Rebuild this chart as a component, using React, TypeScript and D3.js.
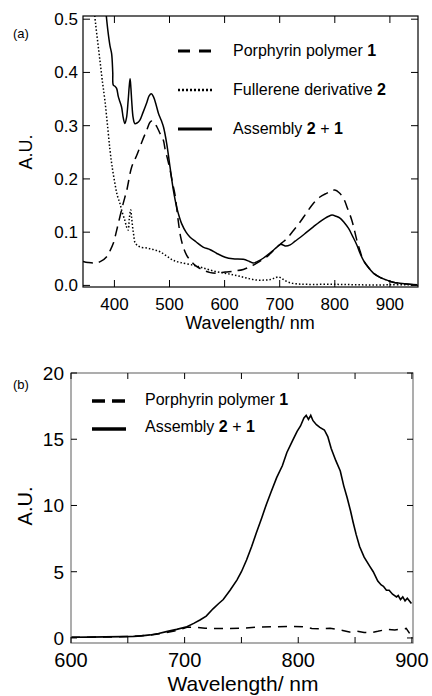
import React, { useEffect, useRef } from 'react';
import * as d3 from 'd3';

const FONT = '"Liberation Sans", Arial, Helvetica, sans-serif';

// (a) absorption spectra, [wavelength nm, A.U.]
const porphyrinAbs: [number, number][] = [
  [343, 0.045], [352, 0.043], [365, 0.042], [375, 0.045], [386, 0.054], [392, 0.065], [398, 0.079],
  [404, 0.103], [410, 0.129], [416, 0.154], [422.5, 0.179], [431.5, 0.223], [440, 0.243], [450, 0.27],
  [458, 0.29], [465, 0.307], [469, 0.309], [473, 0.305], [477, 0.298], [483, 0.285], [489, 0.272],
  [492, 0.256], [497, 0.235], [501, 0.217], [506, 0.19], [510, 0.17], [516, 0.12], [520, 0.092],
  [525, 0.072], [531, 0.057], [537, 0.048], [546, 0.038], [555, 0.032], [565, 0.027], [574, 0.024],
  [587, 0.023], [601, 0.025], [618, 0.027], [634, 0.03], [652, 0.038], [665, 0.046], [677, 0.054],
  [686, 0.063], [695, 0.072], [704, 0.08], [713, 0.088], [725, 0.103], [737, 0.119], [749, 0.137],
  [761, 0.154], [773, 0.166], [785, 0.173], [793, 0.177], [800, 0.179], [808, 0.174], [816, 0.163],
  [823, 0.145], [831, 0.122], [836, 0.102], [840, 0.085], [846, 0.064], [852, 0.047], [860, 0.035],
  [870, 0.023], [882, 0.015], [894, 0.01], [906, 0.006], [918, 0.004], [935, 0.002], [950, 0.001],
];

const fullereneAbs: [number, number][] = [
  [363, 0.52], [366, 0.49], [370, 0.455], [374, 0.42], [378, 0.385], [383, 0.345], [388, 0.295],
  [392, 0.254], [396, 0.222], [401, 0.191], [405, 0.17], [410, 0.154], [414, 0.138], [419, 0.122],
  [422, 0.11], [425, 0.104], [427, 0.125], [429.5, 0.142], [431, 0.13], [433, 0.11], [435, 0.095],
  [437.5, 0.08], [442, 0.075], [447, 0.072], [460, 0.07], [472, 0.067], [483, 0.063], [495, 0.055],
  [507, 0.047], [520, 0.043], [543, 0.038], [560, 0.033], [580, 0.027], [600, 0.023], [615, 0.02],
  [628, 0.017], [643, 0.013], [658, 0.01], [672, 0.01], [683, 0.011], [691, 0.014], [698, 0.016],
  [705, 0.012], [716, 0.006], [730, 0.003], [749, 0.002], [800, 0.002], [850, 0.001], [900, 0.001],
  [950, 0.001],
];

const assemblyAbs: [number, number][] = [
  [384, 0.52], [388, 0.48], [392, 0.45], [395, 0.435], [397, 0.4], [398, 0.376], [401, 0.374],
  [404, 0.37], [407, 0.355], [409, 0.348], [413, 0.335], [416, 0.315], [419, 0.304], [422, 0.315],
  [425, 0.348], [427, 0.375], [428.5, 0.388], [430, 0.37], [431.5, 0.345], [434, 0.315], [437, 0.304],
  [441, 0.305], [446, 0.31], [452, 0.325], [459, 0.344], [463, 0.356], [467, 0.36], [471, 0.354],
  [476, 0.338], [480, 0.323], [485, 0.31], [489, 0.298], [495, 0.266], [501, 0.222], [507, 0.179],
  [513, 0.147], [518, 0.128], [522, 0.116], [530, 0.1], [537, 0.091], [548, 0.082], [561, 0.072],
  [574, 0.067], [586, 0.06], [601, 0.053], [615, 0.05], [634, 0.049], [645, 0.045], [652, 0.042],
  [660, 0.045], [670, 0.051], [685, 0.063], [695, 0.072], [701, 0.077], [706, 0.076], [710, 0.074],
  [719, 0.076], [728, 0.083], [737, 0.09], [749, 0.1], [761, 0.11], [772, 0.119], [782, 0.126],
  [789, 0.13], [795, 0.132], [802, 0.13], [810, 0.126], [817, 0.118], [825, 0.107], [832, 0.093],
  [840, 0.076], [846, 0.06], [852, 0.047], [860, 0.035], [870, 0.023], [882, 0.015], [894, 0.01],
  [906, 0.006], [918, 0.004], [935, 0.002], [950, 0.001],
];

// (b) emission spectra
const porphyrinEm: [number, number][] = [
  [600, 0.05], [630, 0.07], [655, 0.12], [670, 0.22], [684, 0.4], [695, 0.6], [702, 0.8], [710, 0.8],
  [718, 0.74], [725, 0.72], [740, 0.72], [752, 0.75], [765, 0.82], [781, 0.85], [795, 0.86], [804, 0.85],
  [812, 0.72], [820, 0.7], [828, 0.73], [836, 0.62], [845, 0.45], [852, 0.5], [858, 0.42], [863, 0.38],
  [870, 0.5], [877.6, 0.65], [885, 0.6], [892, 0.68], [895, 0.72], [898, 0.35],
];

const assemblyEm: [number, number][] = [
  [600, 0.05], [615, 0.06], [630, 0.08], [645, 0.1], [655, 0.12], [662, 0.16], [669.5, 0.23], [677, 0.34],
  [684, 0.48], [693, 0.65], [702, 0.85], [708, 1.1], [713.5, 1.36], [719, 1.65], [725, 2.2], [730, 2.6],
  [734, 2.9], [740, 3.6], [746, 4.37], [750, 5.0], [754.5, 5.88], [759, 6.9], [763, 7.9], [768, 9.1],
  [772, 10.1], [776, 11.0], [781, 12.1], [786, 13.0], [790, 14.0], [795, 14.9], [799, 15.6], [802, 16.0],
  [805, 16.6], [807, 16.8], [809, 16.5], [811, 16.8], [813, 16.4], [816, 16.1], [819, 15.9], [823, 15.7],
  [826, 15.2], [829, 14.3], [833, 13.4], [837, 12.6], [840, 11.5], [843, 10.6], [846, 9.6], [848.4, 8.7],
  [851, 7.8], [854, 6.9], [858, 6.1], [863, 5.4], [866, 5.0], [870, 4.3], [873, 4.0], [875, 3.9],
  [877.6, 3.6], [880, 3.6], [883, 3.3], [886.5, 3.1], [888, 3.2], [890, 2.9], [892, 3.1], [894, 2.8],
  [896, 3.0], [899.6, 2.6],
];

const xTicksA = [400, 500, 600, 700, 800, 900];
const yTicksA = [0, 0.1, 0.2, 0.3, 0.4, 0.5];
const xTicksB = [600, 700, 800, 900];
const xMinorB = [650, 750, 850];
const yTicksB = [0, 5, 10, 15, 20];

type Sel = d3.Selection<SVGGElement, unknown, null, undefined>;

function frame(g: Sel, x: d3.ScaleLinear<number, number>, y: d3.ScaleLinear<number, number>,
  xt: number[], yt: number[], len: number, color: string) {
  const [x0, x1] = x.range();
  const [y1, y0] = y.range();
  g.append('rect')
    .attr('x', x0).attr('y', y0).attr('width', x1 - x0).attr('height', y1 - y0)
    .style('fill', 'none').style('stroke', color).style('stroke-width', 1.2);
  xt.forEach(t => {
    g.append('line').attr('x1', x(t)).attr('x2', x(t)).attr('y1', y1).attr('y2', y1 - len)
      .style('stroke', '#000').style('stroke-width', 1);
    g.append('line').attr('x1', x(t)).attr('x2', x(t)).attr('y1', y0).attr('y2', y0 + len)
      .style('stroke', '#000').style('stroke-width', 1);
  });
  yt.forEach(t => {
    g.append('line').attr('x1', x0).attr('x2', x0 + len).attr('y1', y(t)).attr('y2', y(t))
      .style('stroke', '#000').style('stroke-width', 1);
    g.append('line').attr('x1', x1).attr('x2', x1 - len).attr('y1', y(t)).attr('y2', y(t))
      .style('stroke', '#000').style('stroke-width', 1);
  });
}

function legendText(g: Sel, xPos: number, yPos: number, plain: string, bold: string[], size: number) {
  const t = g.append('text').attr('x', xPos).attr('y', yPos)
    .style('font-family', FONT).style('font-size', size + 'px');
  t.append('tspan').text(plain);
  bold.forEach((b, i) => {
    if (i % 2 === 0) t.append('tspan').style('font-weight', 'bold').text(b);
    else t.append('tspan').text(b);
  });
}

export default function App() {
  const ref = useRef<SVGSVGElement>(null);

  useEffect(() => {
    const svg = d3.select(ref.current);
    svg.selectAll('*').remove();
    const defs = svg.append('defs');

    // ---------- panel (a) ----------
    const xA = d3.scaleLinear().domain([343, 951]).range([83, 418]);
    const yA = d3.scaleLinear().domain([-0.003, 0.506]).range([287, 16]);
    defs.append('clipPath').attr('id', 'clipA').append('rect')
      .attr('x', 83).attr('y', 16).attr('width', 335).attr('height', 271);

    const gA = svg.append('g') as unknown as Sel;
    const lineA = d3.line<[number, number]>()
      .x(d => xA(d[0])).y(d => yA(d[1])).curve(d3.curveCatmullRom);
    const curvesA = gA.append('g').attr('clip-path', 'url(#clipA)');
    curvesA.append('path').attr('d', lineA(porphyrinAbs))
      .style('fill', 'none').style('stroke', '#000').style('stroke-width', 1.5).style('stroke-dasharray', '10 6');
    curvesA.append('path').attr('d', lineA(fullereneAbs))
      .style('fill', 'none').style('stroke', '#000').style('stroke-width', 1.5).style('stroke-dasharray', '1.5 2');
    curvesA.append('path').attr('d', lineA(assemblyAbs))
      .style('fill', 'none').style('stroke', '#000').style('stroke-width', 1.5);

    frame(gA, xA, yA, xTicksA, yTicksA, 7, '#000');

    xTicksA.forEach(t => {
      gA.append('text').attr('x', xA(t)).attr('y', 310).attr('text-anchor', 'middle')
        .style('font-family', FONT).style('font-size', '17px').text(t);
    });
    yTicksA.forEach(t => {
      gA.append('text').attr('x', 78).attr('y', yA(t) + 6).attr('text-anchor', 'end')
        .style('font-family', FONT).style('font-size', '17px').text(d3.format('.1f')(t));
    });
    gA.append('text').attr('x', 250).attr('y', 329).attr('text-anchor', 'middle')
      .style('font-family', FONT).style('font-size', '18px').text('Wavelength/ nm');
    gA.append('text').attr('transform', 'translate(32,152) rotate(-90)').attr('text-anchor', 'middle')
      .style('font-family', FONT).style('font-size', '18px').text('A.U.');
    gA.append('text').attr('x', 13).attr('y', 38)
      .style('font-family', FONT).style('font-size', '13px').text('(a)');

    // legend (a)
    gA.append('line').attr('x1', 178).attr('x2', 212).attr('y1', 51).attr('y2', 51)
      .style('stroke', '#000').style('stroke-width', 3).style('stroke-dasharray', '12 9');
    gA.append('line').attr('x1', 178).attr('x2', 212).attr('y1', 90).attr('y2', 90)
      .style('stroke', '#000').style('stroke-width', 2.5).style('stroke-dasharray', '2 2');
    gA.append('line').attr('x1', 178).attr('x2', 212).attr('y1', 129).attr('y2', 129)
      .style('stroke', '#000').style('stroke-width', 3);
    legendText(gA, 233, 56, 'Porphyrin polymer ', ['1'], 16);
    legendText(gA, 233, 95, 'Fullerene derivative ', ['2'], 16);
    legendText(gA, 233, 134, 'Assembly ', ['2', ' + ', '1'], 16);

    // ---------- panel (b) ----------
    const xB = d3.scaleLinear().domain([600, 901]).range([71, 413]);
    const yB = d3.scaleLinear().domain([-0.38, 20]).range([643, 373]);
    defs.append('clipPath').attr('id', 'clipB').append('rect')
      .attr('x', 71).attr('y', 373).attr('width', 342).attr('height', 270);

    const gB = svg.append('g') as unknown as Sel;
    const lineB = d3.line<[number, number]>()
      .x(d => xB(d[0])).y(d => yB(d[1]));
    const curvesB = gB.append('g').attr('clip-path', 'url(#clipB)');
    curvesB.append('path').attr('d', lineB(porphyrinEm))
      .style('fill', 'none').style('stroke', '#000').style('stroke-width', 1.5).style('stroke-dasharray', '9 7');
    curvesB.append('path').attr('d', lineB(assemblyEm))
      .style('fill', 'none').style('stroke', '#000').style('stroke-width', 1.6);

    frame(gB, xB, yB, xTicksB.concat(xMinorB), yTicksB, 6, '#777');

    xTicksB.forEach(t => {
      gB.append('text').attr('x', xB(t)).attr('y', 667).attr('text-anchor', 'middle')
        .style('font-family', FONT).style('font-size', '20px').text(t);
    });
    yTicksB.forEach(t => {
      gB.append('text').attr('x', 64).attr('y', yB(t) + 7).attr('text-anchor', 'end')
        .style('font-family', FONT).style('font-size', '19px').text(t);
    });
    gB.append('text').attr('x', 243).attr('y', 691).attr('text-anchor', 'middle')
      .style('font-family', FONT).style('font-size', '21px').text('Wavelength/ nm');
    gB.append('text').attr('transform', 'translate(32,506) rotate(-90)').attr('text-anchor', 'middle')
      .style('font-family', FONT).style('font-size', '20px').text('A.U.');
    gB.append('text').attr('x', 13).attr('y', 389)
      .style('font-family', FONT).style('font-size', '13px').text('(b)');

    // legend (b)
    gB.append('line').attr('x1', 92).attr('x2', 125).attr('y1', 401).attr('y2', 401)
      .style('stroke', '#000').style('stroke-width', 3.5).style('stroke-dasharray', '13 7');
    gB.append('line').attr('x1', 92).attr('x2', 126).attr('y1', 429).attr('y2', 429)
      .style('stroke', '#000').style('stroke-width', 3.5);
    legendText(gB, 145, 405, 'Porphyrin polymer ', ['1'], 16);
    legendText(gB, 145, 432, 'Assembly ', ['2', ' + ', '1'], 16);
  }, []);

  return (
    <svg ref={ref} width={432} height={696}
      style={{ position: 'absolute', left: 0, top: 0, background: '#fff' }} />
  );
}
